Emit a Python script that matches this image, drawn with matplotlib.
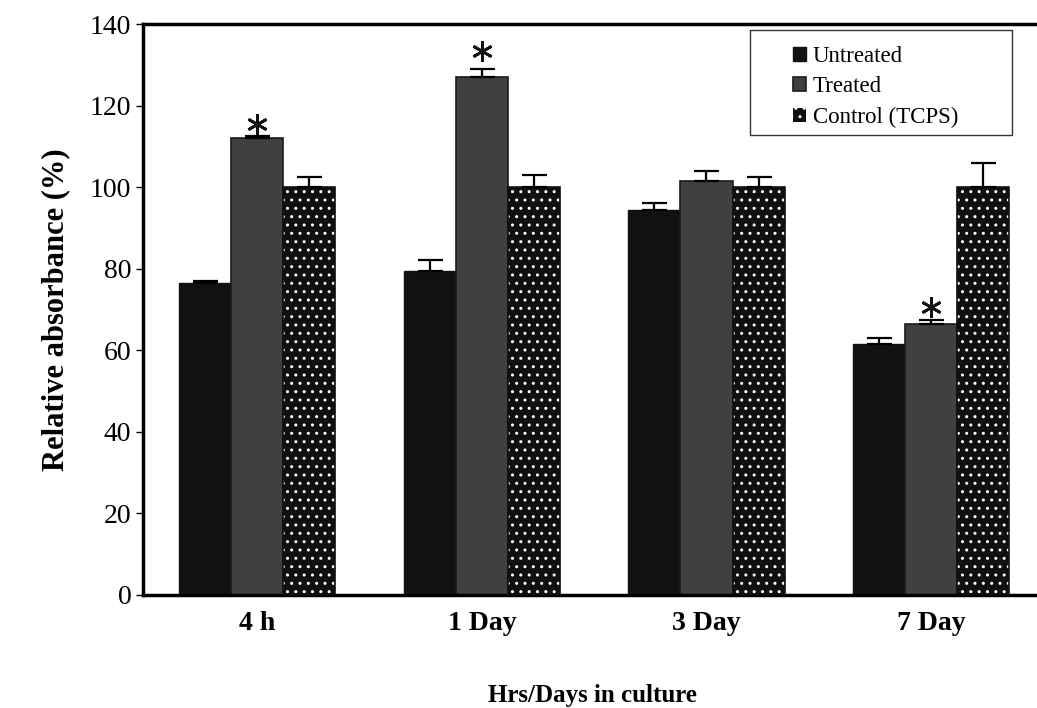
import numpy as np
from matplotlib import pyplot as plt
from matplotlib.patches import Rectangle

plt.rcParams['font.family'] = ['Liberation Serif', 'DejaVu Serif']

groups = ["4 h", "1 Day", "3 Day", "7 Day"]
untreated = [76.5, 79.5, 94.5, 61.5]
untreated_err = [0.5, 2.5, 1.5, 1.5]
treated = [112, 127, 101.5, 66.5]
treated_err = [0.6, 2.0, 2.5, 0.8]
control = [100, 100, 100, 100]
control_err = [2.5, 3.0, 2.5, 6.0]
# significance marks over the treated bars (group index, height)
star_groups = [0, 1, 3]
star_y = [115.5, 133.5, 70.5]

x = np.arange(len(groups))
w = 0.232

fig = plt.figure(figsize=(10.37, 7.08), dpi=100)
ax = fig.add_axes([0.138, 0.160, 0.866, 0.806])

zeros = [0] * len(groups)
ekw = dict(ecolor="black", capsize=9, elinewidth=1.6, capthick=1.6)

ax.bar(x - w, untreated, w, color="#111111", edgecolor="#111111",
       yerr=[zeros, untreated_err], error_kw=ekw, label="Untreated", zorder=2)
ax.bar(x, treated, w, color="#404040", edgecolor="#1a1a1a", linewidth=1.2,
       yerr=[zeros, treated_err], error_kw=ekw, label="Treated", zorder=2)
ax.bar(x + w, control, w, color="#101010", edgecolor="white", hatch="..",
       linewidth=0, label="Control (TCPS)", zorder=2)
ax.bar(x + w, control, w, fill=False, edgecolor="#111111", linewidth=1.2,
       yerr=[zeros, control_err], error_kw=ekw, zorder=3)

ax.plot(x[star_groups], star_y, linestyle="none", marker=(6, 2, 0),
        markersize=15, markeredgewidth=2, color="#111111", zorder=4)

ax.set_xlim(-0.508, 3.49)
ax.set_ylim(0, 140)
ax.set_yticks(range(0, 141, 20))
ax.set_xticks(x)
ax.set_xticklabels(groups, fontsize=20, fontweight="bold")
ax.tick_params(axis="y", labelsize=20, length=5, width=1, direction="out")
ax.tick_params(axis="x", length=0, pad=12)
ax.set_ylabel("Relative absorbance (%)", fontsize=22, fontweight="bold", labelpad=14)
ax.set_xlabel("Hrs/Days in culture", fontsize=18, fontweight="bold", labelpad=34)

for side in ["left", "bottom", "top"]:
    ax.spines[side].set_linewidth(2.5)
ax.spines["right"].set_visible(False)

# legend box is wider than its contents in the original
ax.add_patch(Rectangle((0.676, 0.806), 0.292, 0.183, transform=ax.transAxes,
                       facecolor="white", edgecolor="#333333", linewidth=1,
                       zorder=4))
leg = ax.legend(loc="upper left", bbox_to_anchor=(0.706, 0.99), fontsize=16.5,
                frameon=False, handlelength=0.55, handleheight=0.55,
                handletextpad=0.3, labelspacing=0.42, borderpad=0.2)
leg.set_zorder(5)

fig.savefig("out.png", dpi=100)
